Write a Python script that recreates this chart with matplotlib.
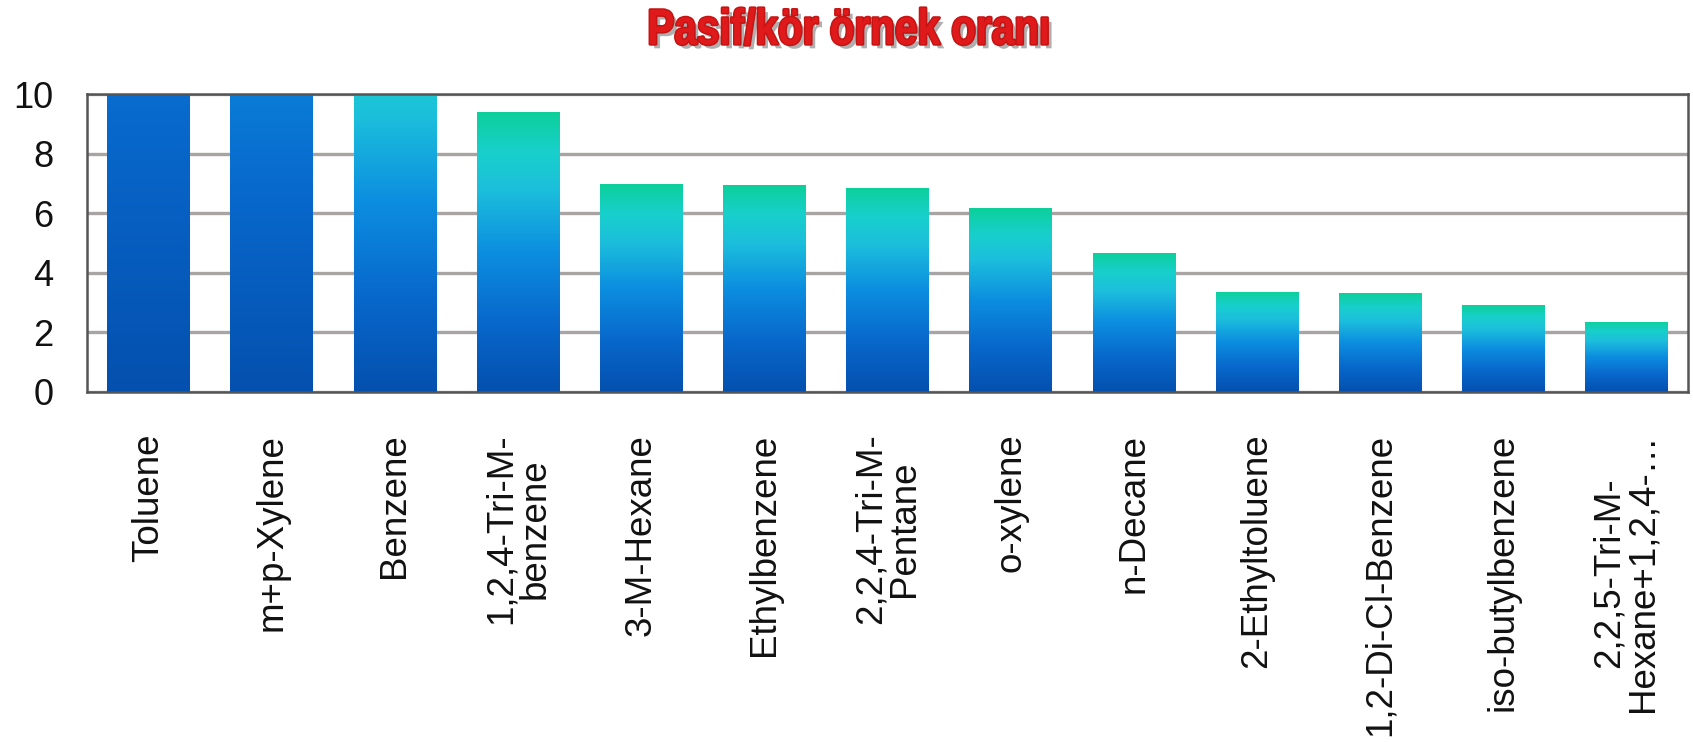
import numpy as np
import matplotlib
matplotlib.use("Agg")
import matplotlib.pyplot as plt
from matplotlib.colors import LinearSegmentedColormap
from matplotlib import patheffects as pe
from matplotlib.transforms import Affine2D

# --- data ---------------------------------------------------------------
compounds = [
    "Toluene", "m+p-Xylene", "Benzene", "1,2,4-Tri-M-\nbenzene",
    "3-M-Hexane", "Ethylbenzene", "2,2,4-Tri-M-\nPentane", "o-xylene",
    "n-Decane", "2-Ethyltoluene", "1,2-Di-Cl-Benzene", "iso-butylbenzene",
    "2,2,5-Tri-M-\nHexane+1,2,4-…",
]
ratios = [10, 10, 10, 9.38, 6.97, 6.93, 6.86, 6.17, 4.67, 3.36, 3.31, 2.91, 2.35]
yticks = [0, 2, 4, 6, 8, 10]
title = "Pasif/kör örnek oranı"

# how far along the colour ramp each bar's top reaches
ramp_top = [0.28, 0.38, 0.78, 1, 1, 1, 1, 1, 1, 1, 1, 1, 1]

# --- styling ------------------------------------------------------------
plt.rcParams["font.family"] = ["Liberation Sans", "DejaVu Sans"]
ramp = LinearSegmentedColormap.from_list(
    "bar_ramp",
    [(0.00, "#0450ae"), (0.25, "#0868cc"), (0.50, "#0c8ee0"),
     (0.72, "#1cbedc"), (0.86, "#18d0cc"), (1.00, "#0ccf9a")],
)

FIG_W, FIG_H, DPI = 16.93, 7.42, 100
TITLE_X, TITLE_Y = 0.5015, 0.958
SQUEEZE = 0.81  # horizontal compression of the heading glyphs


def _squeezed(affine):
    cx = TITLE_X * FIG_W * DPI
    return affine + Affine2D().translate(-cx, 0).scale(SQUEEZE, 1).translate(cx, 0)


class SqueezedShadow(pe.SimplePatchShadow):
    def draw_path(self, renderer, gc, tpath, affine, rgbFace=None):
        super().draw_path(renderer, gc, tpath, _squeezed(affine), rgbFace)


class SqueezedStroke(pe.Stroke):
    def draw_path(self, renderer, gc, tpath, affine, rgbFace=None):
        super().draw_path(renderer, gc, tpath, _squeezed(affine), rgbFace)


class SqueezedFill(pe.AbstractPathEffect):
    def draw_path(self, renderer, gc, tpath, affine, rgbFace=None):
        renderer.draw_path(gc, tpath, _squeezed(affine), rgbFace)


fig = plt.figure(figsize=(FIG_W, FIG_H), dpi=DPI)
ax = fig.add_axes([0.0514, 0.4717, 0.9456, 0.4016])

x = np.arange(len(compounds))
width = 0.67
bars = ax.bar(x, ratios, width=width, color="none", edgecolor="none", zorder=2)

for bar, top in zip(bars, ramp_top):
    x0 = bar.get_x()
    h = bar.get_height()
    grad = np.linspace(0, top, 256).reshape(-1, 1)
    im = ax.imshow(grad, cmap=ramp, vmin=0, vmax=1, origin="lower",
                   extent=(x0, x0 + bar.get_width(), 0, h),
                   aspect="auto", interpolation="bilinear", zorder=2)
    im.set_clip_path(bar)

ax.set_xlim(-0.5, len(compounds) - 0.5)
ax.set_ylim(0, 10)
ax.set_yticks(yticks)
ax.set_yticklabels([str(t) for t in yticks])
ax.set_xticks(x)
ax.set_xticklabels(compounds, rotation=90, ha="center", va="top",
                   multialignment="center", linespacing=0.95)

ax.yaxis.grid(True, color="#a9a4a4", linewidth=2.4, zorder=1)
ax.set_axisbelow(True)
for side in ax.spines.values():
    side.set_color("#555555")
    side.set_linewidth(1.8)

ax.tick_params(axis="y", length=0, pad=24, labelsize=26, labelcolor="#111111")
ax.tick_params(axis="x", length=0, pad=30, labelsize=26.5, labelcolor="#111111")

fig.text(TITLE_X, TITLE_Y, title, ha="center", va="center",
         fontsize=36, fontweight="bold", color="#e01a1a",
         path_effects=[SqueezedShadow(offset=(3, -3), shadow_rgbFace="#6e6e6e",
                                      alpha=0.55),
                       SqueezedStroke(linewidth=2.2, foreground="#c41414"),
                       SqueezedFill()])

fig.savefig("out.png", dpi=DPI)
